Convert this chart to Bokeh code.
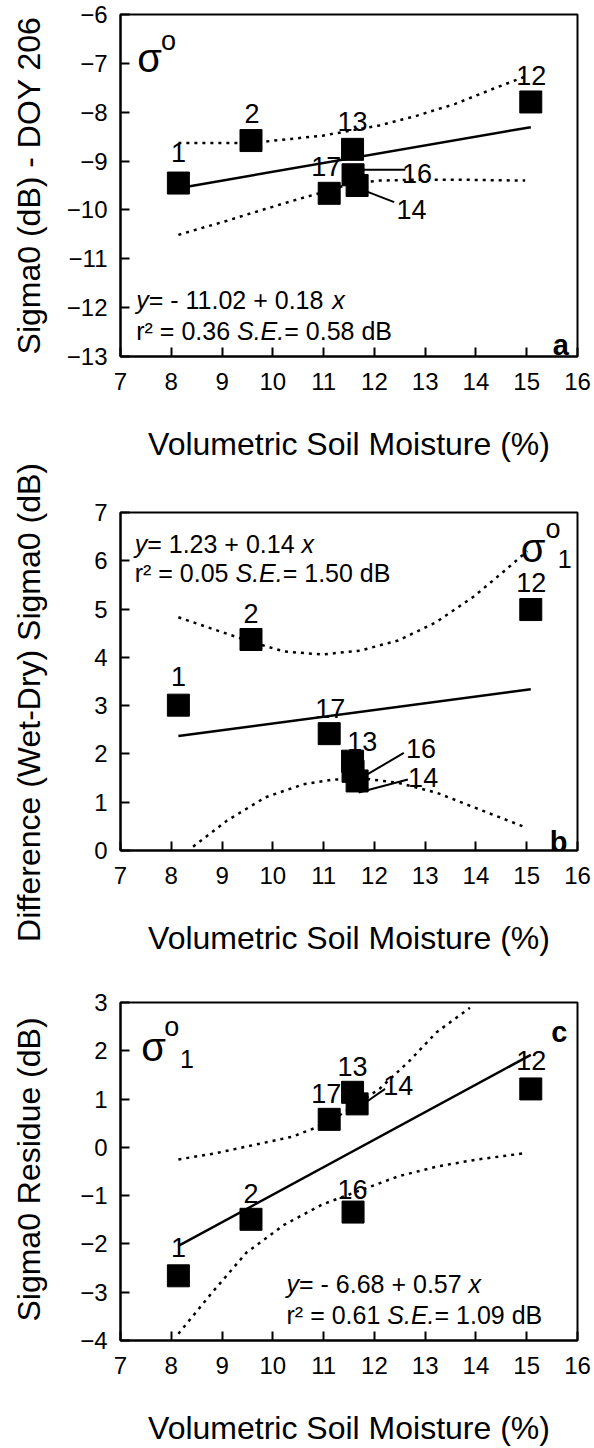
import math

from bokeh.plotting import figure
from bokeh.layouts import column, row
from bokeh.models import FixedTicker, Range1d
from bokeh.core.properties import value
from bokeh.embed import file_html
from bokeh.resources import INLINE

FONT = "Liberation Sans"

# ---- site data -------------------------------------------------------------
site_ids = ["1", "2", "13", "17", "16", "14", "12"]
soil_moisture = [8.14, 9.57, 11.57, 11.11, 11.58, 11.66, 15.08]

sigma0_doy206 = [-9.45, -8.58, -8.76, -9.66, -9.28, -9.50, -7.79]
sigma0_wet_dry = [3.01, 4.37, 1.85, 2.42, 1.64, 1.44, 4.99]
sigma0_residue = [-2.66, -1.49, 1.14, 0.58, -1.34, 0.90, 1.21]

# regression: intercept, slope, r2, standard error (dB)
fit_a = (-11.02, 0.18, 0.36, 0.58)
fit_b = (1.23, 0.14, 0.05, 1.50)
fit_c = (-6.68, 0.57, 0.61, 1.09)

# dotted confidence envelopes
band_a_upper_x = [8.14, 9.57, 10.98, 11.57, 12.10, 12.84, 13.59, 14.34, 14.97]
band_a_upper_y = [-8.63, -8.63, -8.48, -8.37, -8.27, -8.07, -7.83, -7.52, -7.27]
band_a_lower_x = [8.14, 9.10, 9.85, 10.60, 11.05, 11.57, 12.10, 12.84, 13.59, 14.97]
band_a_lower_y = [-10.51, -10.22, -9.98, -9.75, -9.62, -9.45, -9.40, -9.38, -9.38, -9.40]

band_b_upper_x = [8.14, 8.81, 9.57, 10.23, 10.98, 11.72, 12.47, 13.22, 13.97, 14.56, 15.01]
band_b_upper_y = [4.83, 4.59, 4.32, 4.12, 4.06, 4.14, 4.35, 4.73, 5.27, 5.79, 6.20]
band_b_lower_x = [8.43, 9.10, 9.85, 10.60, 11.20, 11.79, 12.47, 13.22, 13.97, 14.56, 14.97]
band_b_lower_y = [0.08, 0.62, 1.10, 1.37, 1.47, 1.49, 1.40, 1.20, 0.89, 0.65, 0.48]

band_c_upper_x = [8.14, 8.88, 9.63, 10.38, 11.05, 11.57, 12.10, 12.69, 13.22, 13.88]
band_c_upper_y = [-0.25, -0.12, 0.05, 0.22, 0.49, 0.84, 1.21, 1.79, 2.38, 2.89]
band_c_lower_x = [8.14, 8.81, 9.48, 10.23, 10.98, 11.57, 12.47, 13.22, 13.97, 14.97]
band_c_lower_y = [-3.86, -3.00, -2.18, -1.60, -1.18, -0.95, -0.60, -0.40, -0.26, -0.12]

x_ticks = [7, 8, 9, 10, 11, 12, 13, 14, 15, 16]
y_titles = ["Sigma0 (dB) - DOY 206", "Difference (Wet-Dry) Sigma0 (dB)",
            "Sigma0 Residue (dB)"]
x_title = "Volumetric Soil Moisture (%)"

# Arial / Liberation Sans advance widths (per 1000 em) for run layout
ADV = {" ": 278, "=": 584, "-": 333, "+": 584, ".": 278, "x": 500, "y": 500,
       "r": 333, "\u00b2": 333, "S": 667, "E": 667, "d": 556, "B": 667}

STRIP_W = 50


def run_width(s, size):
    return sum(ADV.get(ch, 556) for ch in s) / 1000.0 * size


def text_runs(p, x, y, runs, size):
    """Draw a line made of (text, style) runs, left aligned at (x, y)."""
    off = 0.0
    for s, style in runs:
        p.text(x=[x], y=[y], text=[s], x_offset=off,
               text_font=value(FONT), text_font_size=f"{size}px",
               text_font_style=style, text_align="left",
               text_baseline="alphabetic", text_color="black")
        off += run_width(s, size)


def panel(y_range, y_ticks, y_vals, fit, bands, labels, leaders,
          sigma, eq_pos, letter, height, top, bottom):
    p = figure(width=594 - STRIP_W, height=height, output_backend="svg",
               toolbar_location=None, x_range=Range1d(7, 16),
               y_range=Range1d(*y_range),
               min_border_left=120 - STRIP_W, min_border_right=17,
               min_border_top=top, min_border_bottom=bottom)
    p.background_fill_color = "white"
    p.border_fill_color = "white"
    p.outline_line_color = "black"
    p.outline_line_width = 2
    p.grid.visible = False

    for ax, ticks in ((p.xaxis[0], x_ticks), (p.yaxis[0], y_ticks)):
        ax.ticker = FixedTicker(ticks=ticks)
        ax.major_tick_in = 9
        ax.major_tick_out = 0
        ax.minor_tick_line_color = None
        ax.major_tick_line_width = 2
        ax.axis_line_width = 2
        ax.axis_line_color = "black"
        ax.major_tick_line_color = "black"
        ax.major_label_text_font = FONT
        ax.major_label_text_font_size = "24px"
        ax.major_label_text_color = "black"
        ax.major_label_standoff = 13
    p.xaxis.major_label_standoff = 16
    p.xaxis.axis_label = x_title
    p.xaxis.axis_label_standoff = 33
    p.xaxis.axis_label_text_font = FONT
    p.xaxis.axis_label_text_font_size = "32px"
    p.xaxis.axis_label_text_font_style = "normal"
    p.xaxis.axis_label_text_color = "black"

    # confidence envelopes
    for bx, by in bands:
        p.line(bx, by, line_color="black", line_width=2.5, line_dash="3 5")

    # fitted line
    a, b, r2, se = fit
    fx = [min(soil_moisture), max(soil_moisture)]
    p.line(fx, [a + b * v for v in fx], line_color="black", line_width=2.5)

    # leader lines to crowded labels
    if leaders:
        p.segment(x0=[l[0] for l in leaders], y0=[l[1] for l in leaders],
                  x1=[l[2] for l in leaders], y1=[l[3] for l in leaders],
                  line_color="black", line_width=2)

    p.scatter(soil_moisture, y_vals, marker="square", size=22,
              fill_color="black", line_color="black")

    p.text(x=[labels[s][0] for s in site_ids], y=[labels[s][1] for s in site_ids],
           text=site_ids, text_font=value(FONT), text_font_size="27px",
           text_align="center", text_baseline="middle", text_color="black")

    # sigma-nought symbol
    sx, sy, ox, oy, sub = sigma
    p.text(x=[sx], y=[sy], text=["\u03c3"], text_font=value(FONT),
           text_font_size="40px", text_align="left", text_baseline="alphabetic")
    p.text(x=[ox], y=[oy], text=["o"], text_font=value(FONT),
           text_font_size="27px", text_align="left", text_baseline="alphabetic")
    if sub is not None:
        p.text(x=[sub[0]], y=[sub[1]], text=["1"], text_font=value(FONT),
               text_font_size="25px", text_align="left", text_baseline="alphabetic")

    # regression statistics
    ex, ey1, ey2 = eq_pos
    sign = "- " if a < 0 else ""
    text_runs(p, ex, ey1, [("y", "italic"),
                           (f"= {sign}{abs(a):.2f} + {b:.2f} ", "normal"),
                           ("x", "italic")], 25)
    text_runs(p, ex, ey2, [(f"r\u00b2 = {r2:.2f} ", "normal"), ("S.E.", "italic"),
                           (f" = {se:.2f} dB", "normal")], 25)

    lx, ly, lt = letter
    p.text(x=[lx], y=[ly], text=[lt], text_font=value(FONT), text_font_size="29px",
           text_font_style="bold", text_align="right", text_baseline="alphabetic")
    return p


labels_a = {"1": (8.14, -8.82), "2": (9.59, -8.03), "13": (11.57, -8.2),
            "12": (15.09, -7.25), "17": (11.05, -9.12), "16": (12.84, -9.26),
            "14": (12.73, -10.0)}
leaders_a = [(11.64, -9.18, 12.61, -9.18), (11.79, -9.6, 12.39, -9.84)]

labels_b = {"1": (8.14, 3.6), "2": (9.57, 4.9), "12": (15.09, 5.55),
            "17": (11.13, 2.95), "13": (11.76, 2.26), "16": (12.92, 2.12),
            "14": (12.96, 1.51)}
leaders_b = [(11.8, 1.54, 12.58, 2.02), (11.69, 1.2, 12.66, 1.47)]

labels_c = {"1": (8.14, -2.07), "2": (9.57, -0.95), "16": (11.57, -0.88),
            "17": (11.05, 1.11), "13": (11.57, 1.67), "14": (12.47, 1.28),
            "12": (15.09, 1.79)}
leaders_c = [(11.84, 0.94, 12.21, 1.21)]

pa = panel((-13, -6), list(range(-13, -5)), sigma0_doy206,
           fit_a, [(band_a_upper_x, band_a_upper_y), (band_a_lower_x, band_a_lower_y)],
           labels_a, leaders_a, (7.33, -6.89, 7.8, -6.55, None),
           (7.31, -11.85, -12.47), (15.83, -12.77, "a"),
           480, 14, 124)

pb = panel((0, 7), list(range(0, 8)), sigma0_wet_dry,
           fit_b, [(band_b_upper_x, band_b_upper_y), (band_b_lower_x, band_b_lower_y)],
           labels_b, leaders_b, (14.88, 6.27, 15.37, 6.66, (15.61, 6.04)),
           (7.28, 6.34, 5.75), (15.8, 0.17, "b"),
           490, 32, 120)

pc = panel((-4, 3), list(range(-4, 4)), sigma0_residue,
           fit_c, [(band_c_upper_x, band_c_upper_y), (band_c_lower_x, band_c_lower_y)],
           labels_c, leaders_c, (7.41, 2.07, 7.86, 2.49, (8.17, 1.84)),
           (10.27, -2.83, -3.48), (15.8, 2.38, "c"),
           478, 32, 105)

# left strip carrying the rotated y-axis titles (the middle one is taller
# than its own panel, so the titles live in a shared full-height strip)
strip = figure(width=STRIP_W, height=1448, output_backend="svg",
               toolbar_location=None, x_range=Range1d(0, STRIP_W),
               y_range=Range1d(1448, 0), x_axis_location=None,
               y_axis_location=None, min_border=0)
strip.outline_line_color = None
strip.grid.visible = False
strip.background_fill_color = "white"
strip.border_fill_color = "white"
strip.text(x=[28, 28, 28], y=[185, 702, 1169], text=y_titles,
           angle=math.pi / 2, text_font=value(FONT), text_font_size="32px",
           text_align="center", text_baseline="middle", text_color="black")

layout = row(strip, column(pa, pb, pc, spacing=0), spacing=0)
open("out.html", "w").write(file_html(layout, INLINE))
